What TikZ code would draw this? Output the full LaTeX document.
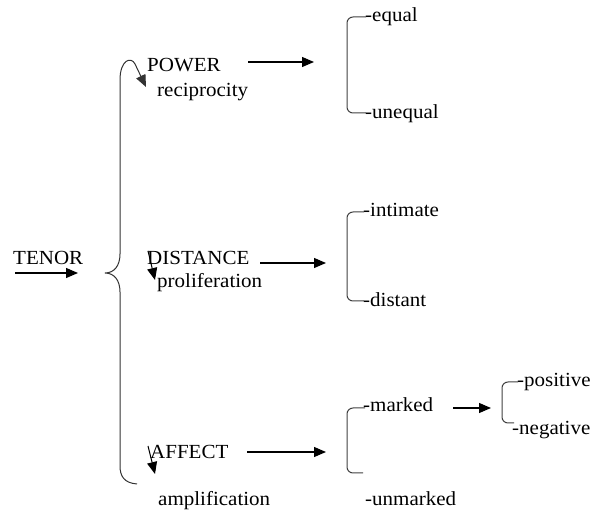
\documentclass[tikz,border=0pt]{standalone}
\usepackage{fontspec}
\setmainfont{Liberation Serif}[FakeStretch=1.05]
\usetikzlibrary{arrows.meta}

\begin{document}
\begin{tikzpicture}[
  x=1pt, y=-1pt,
  font=\fontsize{20}{22}\selectfont,
  lbl/.style={anchor=base west, inner sep=0pt},
  arr/.style={-{Triangle[length=12pt,width=10pt]}, line width=1.1pt},
  smallarr/.style={-{Triangle[length=12pt,width=10pt]}, line width=1pt},
  bracket/.style={draw=black!75, line width=1pt, rounded corners=6pt}
]
\useasboundingbox (0,0) rectangle (592,510);

% ── Left side: TENOR and the big brace ─────────────────────────
\node[lbl] (tenor) at (13,265) {TENOR};
\coordinate (tenor-a) at (15,273);
\coordinate (tenor-b) at (78,273);
\draw[arr] (tenor-a)--(tenor-b);
\draw[black!80, line width=1pt, -{Triangle[length=12pt,width=10pt]}]
  (137,484) .. controls (124,483) and (120,476) .. (120,466)
  -- (120,292) .. controls (120,280) and (114,273) .. (105,273)
  .. controls (114,273) and (120,266) .. (120,254)
  -- (120,80) .. controls (120,60) and (131,56) .. (135,64)
  -- (146,87);

% ── Middle column: the three systems ───────────────────────────
\node[lbl] (power)    at (147,72)  {POWER};
\node[lbl] (recip)    at (157,97)  {reciprocity};
\node[lbl] (distance) at (147,265) {DISTANCE};
\node[lbl] (prolif)   at (157,288) {proliferation};
\node[lbl] (affect)   at (150,459) {AFFECT};
\node[lbl] (amplif)   at (158,505) {amplification};

% small arrows into the lower two labels
\coordinate (dist-a) at (148,251);
\coordinate (dist-b) at (155,280);
\coordinate (aff-a)  at (148,446);
\coordinate (aff-b)  at (155,474);
\draw[smallarr] (dist-a)--(dist-b);
\draw[smallarr] (aff-a)--(aff-b);

% arrows to the choices
\coordinate (pw-a)  at (248,62);   \coordinate (pw-b)  at (314,62);
\coordinate (ds-a)  at (260,263);  \coordinate (ds-b)  at (326,263);
\coordinate (af-a)  at (247,452);  \coordinate (af-b)  at (326,452);
\draw[arr] (pw-a)--(pw-b);
\draw[arr] (ds-a)--(ds-b);
\draw[arr] (af-a)--(af-b);

% ── Right column: choices ──────────────────────────────────────
\node[lbl] (equal)    at (365,22)  {-equal};
\node[lbl] (unequal)  at (365,119) {-unequal};
\draw[bracket] (366,17)--(347,17)--(347,113)--(366,113);

\node[lbl] (intimate) at (363,217) {-intimate};
\node[lbl] (distant)  at (363,307) {-distant};
\draw[bracket] (364,212)--(347,212)--(347,301)--(364,301);

\node[lbl] (marked)   at (363,412) {-marked};
\node[lbl] (unmarked) at (365,505) {-unmarked};
\draw[bracket] (365,408)--(347,408)--(347,473)--(363,473);

\coordinate (mk-a) at (453,408);
\coordinate (mk-b) at (491,408);
\draw[arr] (mk-a)--(mk-b);
\node[lbl] (positive) at (517,387) {-positive};
\node[lbl] (negative) at (512,435) {-negative};
\draw[bracket] (518,382)--(502,382)--(502,423)--(514,423);

\end{tikzpicture}
\end{document}
